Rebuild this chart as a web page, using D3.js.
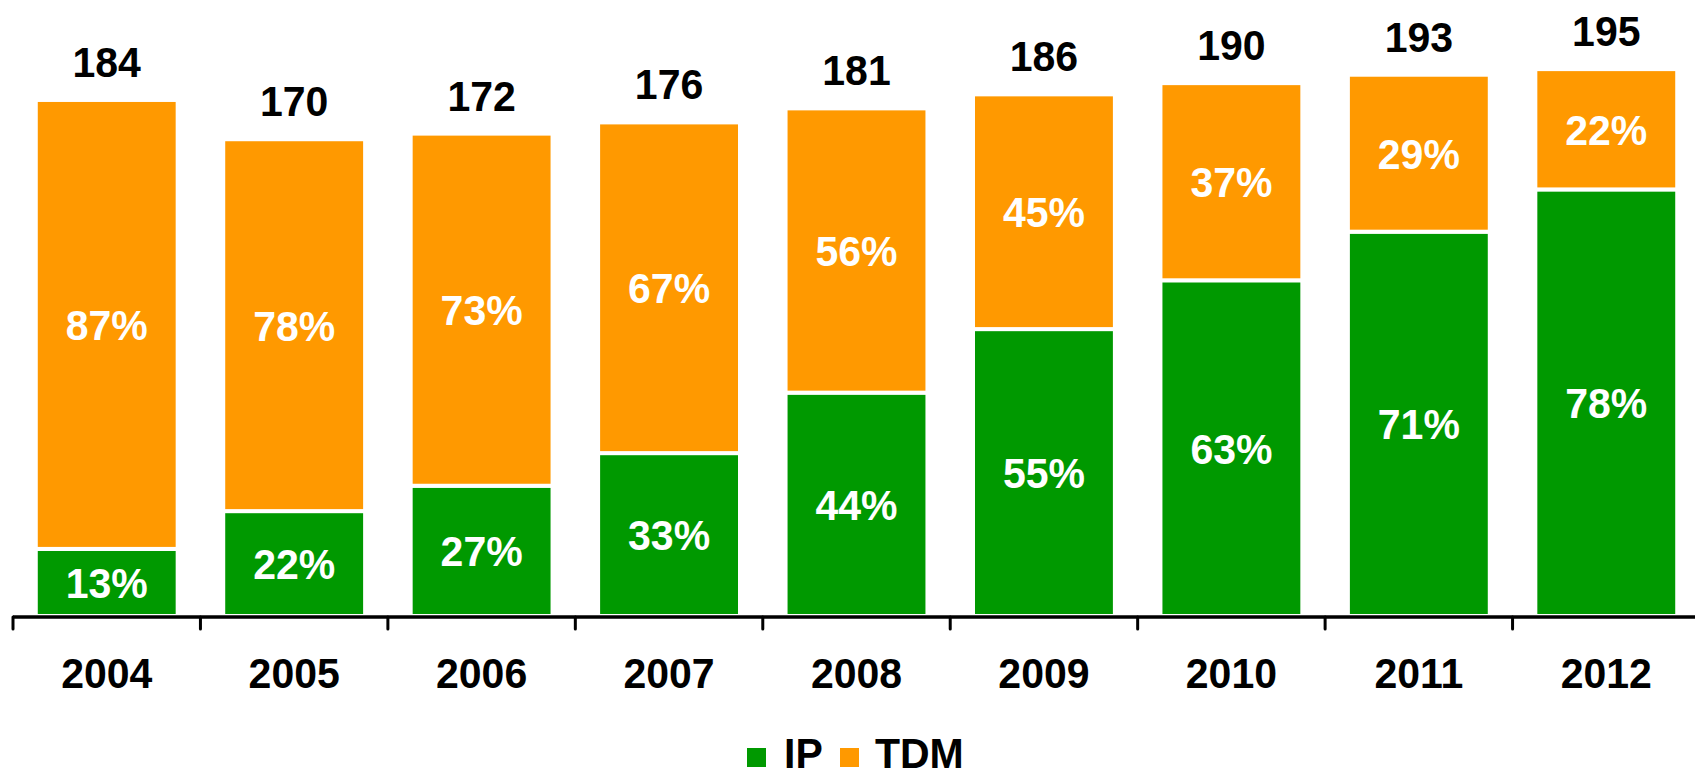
<!DOCTYPE html>
<html>
<head>
<meta charset="utf-8">
<script src="https://cdn.jsdelivr.net/npm/d3@7"></script>
<style>
    html, body { margin: 0; padding: 0; background: #fff; }
    svg { display: block; }
    text { font-family: "Liberation Sans", Arial, sans-serif; font-weight: bold; }
</style>
</head>
<body>
<script>
(function() {
    'use strict';

    let years = ["2004", "2005", "2006", "2007", "2008", "2009", "2010", "2011", "2012"];
    let totals = [184, 170, 172, 176, 181, 186, 190, 193, 195];
    let ipShare = [13, 22, 27, 33, 44, 55, 63, 71, 78];
    let tdmShare = [87, 78, 73, 67, 56, 45, 37, 29, 22];
    let seriesNames = ["IP", "TDM"];
    let seriesColors = ["#009900", "#ff9900"];

    let width = 1695;
    let height = 770;
    let fontSize = 41;
    let stretch = 1.05;

    let svg = d3.select("body").append("svg")
        .attr("width", width)
        .attr("height", height);

    let x = d3.scaleBand()
        .domain(years)
        .range([13, 1700])
        .paddingInner(0.243)
        .paddingOuter(0.1215);

    let y = d3.scaleLinear()
        .domain([0, 220])
        .range([616, -1]);

    // text placed with a slight vertical stretch, like the original export
    function place(px, py) {
        return "translate(" + px + "," + py + ") scale(1," + stretch + ")";
    }

    let rows = years.map(function(yr, i) {
        return {
            year: yr,
            total: totals[i],
            IP: totals[i] * ipShare[i] / 100,
            TDM: totals[i] * tdmShare[i] / 100,
            pct: { IP: ipShare[i], TDM: tdmShare[i] }
        };
    });

    let stack = d3.stack().keys(seriesNames);
    let layers = stack(rows);

    let g = svg.append("g");

    layers.forEach(function(layer, li) {
        let grp = g.append("g");
        grp.selectAll("rect")
            .data(layer)
            .enter()
            .append("rect")
            .attr("x", function(d) { return x(d.data.year); })
            .attr("width", x.bandwidth())
            .attr("y", function(d) { return y(d[1]); })
            .attr("height", function(d) { return y(d[0]) - y(d[1]); })
            .attr("fill", seriesColors[li])
            .attr("stroke", "#fff")
            .attr("stroke-width", 4);

        grp.selectAll("text")
            .data(layer)
            .enter()
            .append("text")
            .attr("transform", function(d) {
                return place(x(d.data.year) + x.bandwidth() / 2, (y(d[0]) + y(d[1])) / 2);
            })
            .attr("dy", "0.36em")
            .attr("text-anchor", "middle")
            .attr("fill", "#fff")
            .style("font-size", fontSize + "px")
            .text(function(d) { return d.data.pct[layer.key] + "%"; });
    });

    // totals above bars
    g.append("g").selectAll("text")
        .data(rows)
        .enter()
        .append("text")
        .attr("transform", function(d) {
            return place(x(d.year) + x.bandwidth() / 2, y(d.total) - 23);
        })
        .attr("text-anchor", "middle")
        .attr("fill", "#000")
        .style("font-size", fontSize + "px")
        .text(function(d) { return d.total; });

    // x axis with ticks at band boundaries
    let axisG = svg.append("g");
    axisG.append("line")
        .attr("x1", x.range()[0])
        .attr("x2", x.range()[1])
        .attr("y1", 617)
        .attr("y2", 617)
        .attr("stroke", "#000")
        .attr("stroke-width", 3.5);

    let step = x.step();
    let boundaries = d3.range(years.length + 1).map(function(i) { return x.range()[0] + i * step; });
    axisG.selectAll(".tick")
        .data(boundaries)
        .enter()
        .append("line")
        .attr("class", "tick")
        .attr("x1", function(d) { return d; })
        .attr("x2", function(d) { return d; })
        .attr("y1", 617)
        .attr("y2", 629)
        .attr("stroke", "#000")
        .attr("stroke-width", 3)
        .attr("stroke-linecap", "round");

    axisG.selectAll(".year")
        .data(years)
        .enter()
        .append("text")
        .attr("class", "year")
        .attr("transform", function(d) { return place(x(d) + x.bandwidth() / 2, 688); })
        .attr("text-anchor", "middle")
        .attr("fill", "#000")
        .style("font-size", fontSize + "px")
        .text(function(d) { return d; });

    // legend
    let legend = svg.append("g");
    let legendItems = [
        { name: seriesNames[0], color: seriesColors[0], sx: 747, tx: 784 },
        { name: seriesNames[1], color: seriesColors[1], sx: 840, tx: 875 }
    ];
    legendItems.forEach(function(it) {
        legend.append("rect")
            .attr("x", it.sx)
            .attr("y", 748)
            .attr("width", 19)
            .attr("height", 19)
            .attr("fill", it.color);
        legend.append("text")
            .attr("transform", place(it.tx, 768))
            .attr("fill", "#000")
            .style("font-size", fontSize + "px")
            .text(it.name);
    });
})();
</script>
</body>
</html>
